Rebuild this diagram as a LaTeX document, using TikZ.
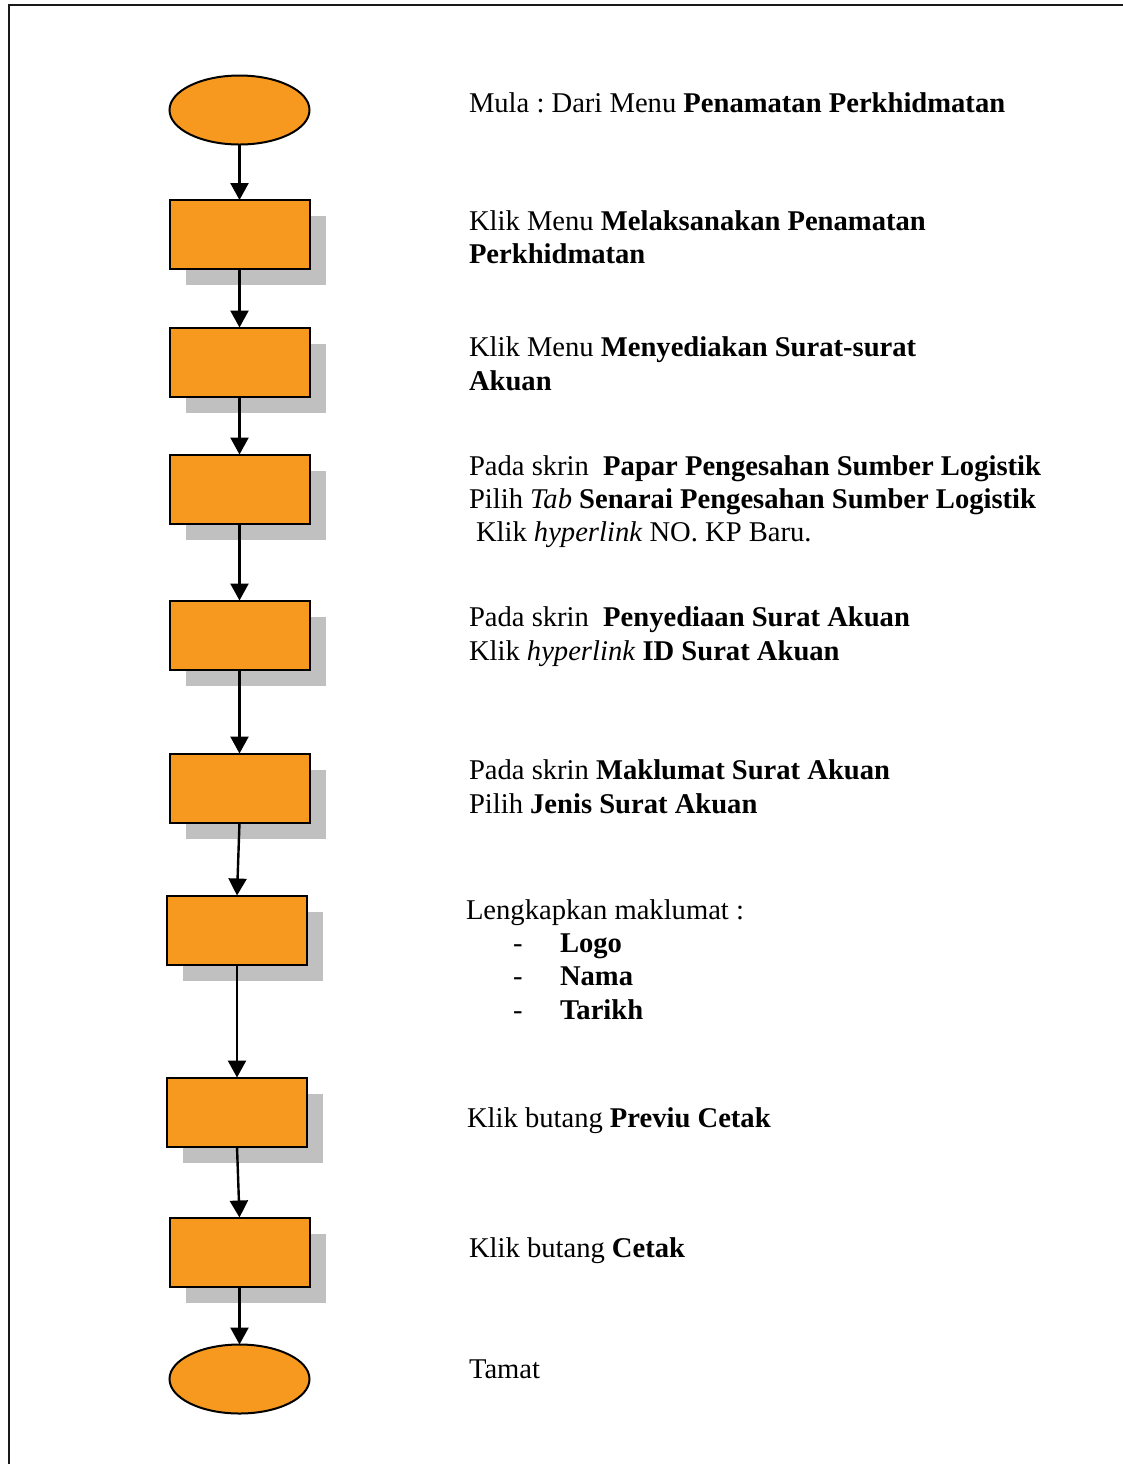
\documentclass[tikz,border=0pt]{standalone}
\usepackage{fontspec}
\setmainfont{Liberation Serif}
\usetikzlibrary{shapes.geometric, arrows.meta, shadows}

\definecolor{fcorange}{HTML}{F7991F}
\definecolor{fcshadow}{HTML}{C0C0C0}

\frenchspacing

\begin{document}
\begin{tikzpicture}[x=0.5pt, y=-0.5pt,
  terminal/.style={ellipse, draw=black, line width=1pt, fill=fcorange,
    minimum width=70pt, minimum height=34.5pt, inner sep=0pt, outer sep=0pt},
  stepbox/.style={rectangle, draw=black, line width=1pt, fill=fcorange,
    minimum width=70pt, minimum height=34.5pt, inner sep=0pt, outer sep=0pt,
    general shadow={fill=fcshadow, shadow xshift=8pt, shadow yshift=-8pt}},
  flow/.style={line width=1.2pt, -{Triangle[width=9pt,length=8.5pt]}},
  txt/.style={anchor=base west, inner sep=0pt, outer sep=0pt,
    font=\fontsize{14.3}{17}\selectfont}
]
% page frame
\useasboundingbox (0,0) rectangle (1123,1464);
\coordinate (frameTR) at (1123,5);
\coordinate (frameTL) at (9,5);
\coordinate (frameBL) at (9,1464);
\draw[line width=1.2pt, black!90] (frameTR) -- (frameTL) -- (frameBL);

% flowchart shapes
\node[terminal] (start) at (239.5,110) {};
\node[stepbox] (s1) at (239.5,234.5) {};
\node[stepbox] (s2) at (239.5,362) {};
\node[stepbox] (s3) at (239.5,489) {};
\node[stepbox] (s4) at (239.5,635) {};
\node[stepbox] (s5) at (239.5,788) {};
\node[stepbox] (s6) at (237,930) {};
\node[stepbox] (s7) at (237,1112) {};
\node[stepbox] (s8) at (239.5,1252) {};
\node[terminal] (stop) at (239.5,1379) {};

% connectors
\draw[flow] (start) -- (s1);
\draw[flow] (s1) -- (s2);
\draw[flow] (s2) -- (s3);
\draw[flow] (s3) -- (s4);
\draw[flow] (s4) -- (s5);
\draw[flow] (s5.south) -- (s6.north);
\draw[flow] (s6) -- (s7);
\draw[flow] (s7.south) -- (s8.north);
\draw[flow] (s8) -- (stop);

% descriptions
\node[txt] (t0) at (469,112) {Mula : Dari Menu \textbf{Penamatan Perkhidmatan}};

\node[txt] (t1a) at (469,230) {Klik Menu \textbf{Melaksanakan Penamatan}};
\node[txt] (t1b) at (469,263) {\textbf{Perkhidmatan}};

\node[txt] (t2a) at (469,356) {Klik Menu \textbf{Menyediakan Surat-surat}};
\node[txt] (t2b) at (469,390) {\textbf{Akuan}};

\node[txt] (t3a) at (469,475) {Pada skrin\ \ \textbf{Papar Pengesahan Sumber Logistik}};
\node[txt] (t3b) at (469,508) {Pilih \textit{Tab} \textbf{Senarai Pengesahan Sumber Logistik}};
\node[txt] (t3c) at (476,541) {Klik \textit{hyperlink} NO. KP Baru.};

\node[txt] (t4a) at (469,626) {Pada skrin\ \ \textbf{Penyediaan Surat Akuan}};
\node[txt] (t4b) at (469,660) {Klik \textit{hyperlink} \textbf{ID Surat Akuan}};

\node[txt] (t5a) at (469,779) {Pada skrin \textbf{Maklumat Surat Akuan}};
\node[txt] (t5b) at (469,813) {Pilih \textbf{Jenis Surat Akuan}};

\node[txt] (t6a) at (466,919) {Lengkapkan maklumat :};
\node[txt] (d1) at (513,952) {-};
\node[txt] (t6b) at (560,952) {\textbf{Logo}};
\node[txt] (d2) at (513,985) {-};
\node[txt] (t6c) at (560,985) {\textbf{Nama}};
\node[txt] (d3) at (513,1019) {-};
\node[txt] (t6d) at (560,1019) {\textbf{Tarikh}};

\node[txt] (t7) at (467,1127) {Klik butang \textbf{Previu Cetak}};
\node[txt] (t8) at (469,1257) {Klik butang \textbf{Cetak}};
\node[txt] (t9) at (469,1378) {Tamat};
\end{tikzpicture}
\end{document}
